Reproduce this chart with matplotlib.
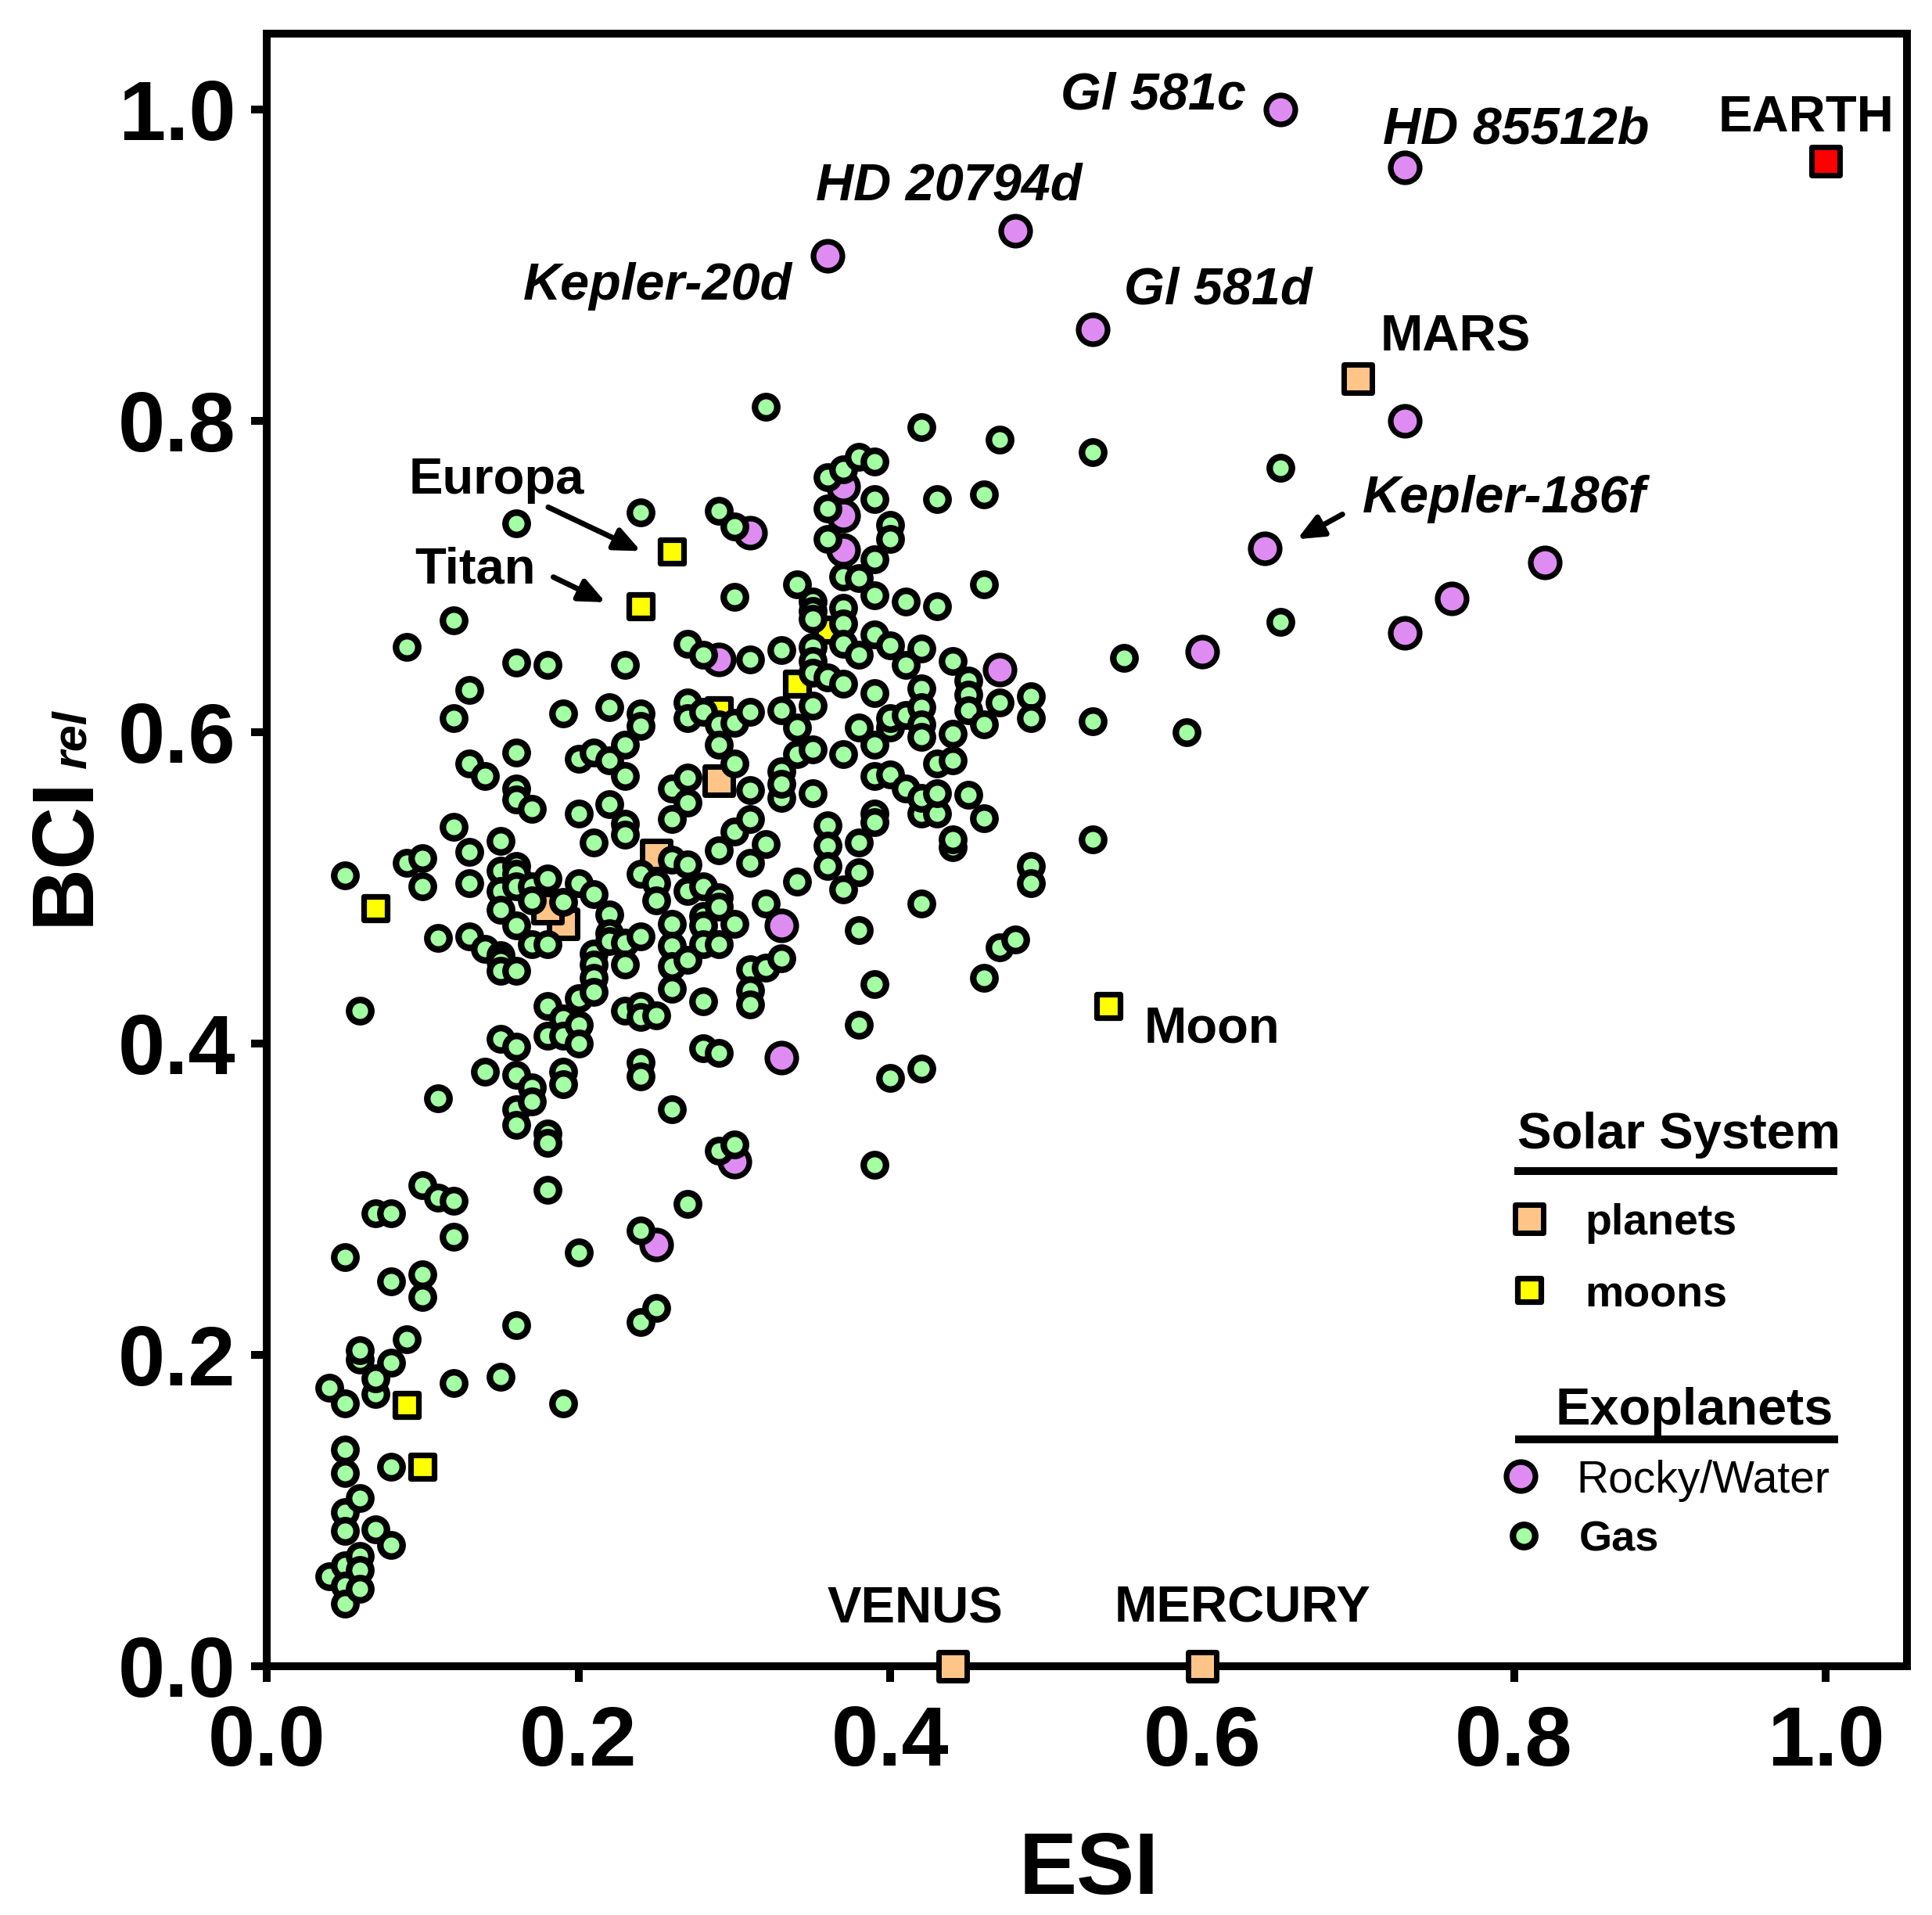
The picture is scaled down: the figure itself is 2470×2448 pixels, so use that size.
import matplotlib
matplotlib.use("Agg")
import matplotlib.pyplot as plt
from matplotlib.ticker import FormatStrFormatter

plt.rcParams["font.family"] = ["Liberation Sans", "DejaVu Sans"]
plt.rcParams["font.weight"] = "bold"

# exoplanets, gas giants (ESI, BCI_rel), one line per ESI column
gas_esi = [
    0.04, 0.04,
    0.05, 0.05, 0.05, 0.05, 0.05, 0.05, 0.05, 0.05, 0.05, 0.05,
    0.06, 0.06, 0.06, 0.06, 0.06, 0.06, 0.06,
    0.07, 0.07, 0.07, 0.07,
    0.08, 0.08, 0.08, 0.08, 0.08,
    0.09, 0.09, 0.09,
    0.10, 0.10, 0.10, 0.10, 0.10,
    0.11, 0.11, 0.11,
    0.12, 0.12, 0.12, 0.12, 0.12, 0.12,
    0.13, 0.13, 0.13, 0.13, 0.13,
    0.14, 0.14, 0.14,
    0.15, 0.15, 0.15, 0.15, 0.15, 0.15, 0.15, 0.15, 0.15,
    0.16, 0.16, 0.16, 0.16, 0.16, 0.16, 0.16, 0.16, 0.16, 0.16, 0.16, 0.16, 0.16, 0.16, 0.16,
    0.17, 0.17, 0.17, 0.17, 0.17, 0.17,
    0.18, 0.18, 0.18, 0.18, 0.18, 0.18, 0.18, 0.18,
    0.19, 0.19, 0.19, 0.19, 0.19, 0.19, 0.19,
    0.20, 0.20, 0.20, 0.20, 0.20, 0.20, 0.20,
    0.21, 0.21, 0.21, 0.21, 0.21, 0.21, 0.21,
    0.22, 0.22, 0.22, 0.22, 0.22, 0.22,
    0.23, 0.23, 0.23, 0.23, 0.23, 0.23, 0.23, 0.23,
    0.24, 0.24, 0.24, 0.24, 0.24, 0.24, 0.24, 0.24, 0.24, 0.24, 0.24,
    0.25, 0.25, 0.25, 0.25,
    0.26, 0.26, 0.26, 0.26, 0.26, 0.26, 0.26, 0.26,
    0.27, 0.27, 0.27, 0.27, 0.27, 0.27, 0.27, 0.27, 0.27,
    0.28, 0.28, 0.28, 0.28, 0.28, 0.28, 0.28, 0.28,
    0.29, 0.29, 0.29, 0.29, 0.29, 0.29, 0.29, 0.29, 0.29,
    0.30, 0.30, 0.30, 0.30, 0.30, 0.30, 0.30,
    0.31, 0.31, 0.31, 0.31, 0.31, 0.31, 0.31, 0.31,
    0.32, 0.32, 0.32, 0.32,
    0.33, 0.33, 0.33, 0.33, 0.33, 0.33,
    0.34, 0.34, 0.34, 0.34,
    0.35, 0.35, 0.35, 0.35, 0.35, 0.35, 0.35, 0.35, 0.35,
    0.36, 0.36, 0.36, 0.36, 0.36, 0.36, 0.36,
    0.37, 0.37, 0.37, 0.37, 0.37, 0.37, 0.37, 0.37,
    0.38, 0.38, 0.38, 0.38, 0.38, 0.38, 0.38, 0.38,
    0.39, 0.39, 0.39, 0.39, 0.39, 0.39, 0.39, 0.39, 0.39, 0.39, 0.39, 0.39,
    0.40, 0.40, 0.40, 0.40, 0.40, 0.40, 0.40,
    0.41, 0.41, 0.41, 0.41,
    0.42, 0.42, 0.42, 0.42, 0.42, 0.42, 0.42, 0.42, 0.42, 0.42,
    0.43, 0.43, 0.43, 0.43, 0.43,
    0.44, 0.44, 0.44, 0.44, 0.44,
    0.45, 0.45, 0.45, 0.45,
    0.46, 0.46, 0.46, 0.46, 0.46,
    0.47, 0.47, 0.47,
    0.48,
    0.49, 0.49, 0.49, 0.49,
    0.53, 0.53, 0.53,
    0.55,
    0.59,
    0.65, 0.65,
]
gas_bci = [
    0.179, 0.058,
    0.263, 0.169, 0.139, 0.124, 0.099, 0.087, 0.065, 0.052, 0.040, 0.508,
    0.197, 0.203, 0.108, 0.071, 0.062, 0.050, 0.421,
    0.291, 0.175, 0.185, 0.088,
    0.291, 0.247, 0.195, 0.128, 0.078,
    0.210, 0.516, 0.655,
    0.309, 0.252, 0.237, 0.519, 0.501,
    0.301, 0.468, 0.365,
    0.299, 0.276, 0.182, 0.539, 0.672, 0.609,
    0.523, 0.503, 0.469, 0.627, 0.580,
    0.461, 0.382, 0.572,
    0.186, 0.530, 0.511, 0.498, 0.486, 0.457, 0.453, 0.447, 0.403,
    0.219, 0.514, 0.509, 0.501, 0.476, 0.447, 0.398, 0.380, 0.358, 0.348, 0.734, 0.645, 0.587, 0.564, 0.557,
    0.501, 0.492, 0.464, 0.372, 0.363, 0.551,
    0.506, 0.464, 0.424, 0.405, 0.342, 0.336, 0.306, 0.643,
    0.169, 0.491, 0.416, 0.405, 0.382, 0.374, 0.612,
    0.266, 0.503, 0.429, 0.412, 0.400, 0.548, 0.583,
    0.496, 0.458, 0.451, 0.442, 0.433, 0.529, 0.587,
    0.483, 0.471, 0.466, 0.554, 0.616, 0.582,
    0.465, 0.451, 0.421, 0.541, 0.534, 0.643, 0.592, 0.572,
    0.280, 0.221, 0.469, 0.424, 0.417, 0.388, 0.379, 0.509, 0.741, 0.612, 0.604,
    0.230, 0.418, 0.503, 0.492,
    0.358, 0.544, 0.518, 0.477, 0.463, 0.450, 0.435, 0.564,
    0.297, 0.555, 0.515, 0.498, 0.454, 0.657, 0.619, 0.609, 0.571,
    0.501, 0.482, 0.476, 0.464, 0.427, 0.397, 0.650, 0.613,
    0.524, 0.494, 0.488, 0.464, 0.394, 0.331, 0.742, 0.605, 0.592,
    0.536, 0.477, 0.335, 0.732, 0.687, 0.606, 0.580,
    0.563, 0.544, 0.516, 0.448, 0.434, 0.425, 0.647, 0.613,
    0.528, 0.490, 0.449, 0.809,
    0.558, 0.455, 0.653, 0.614, 0.575, 0.567,
    0.504, 0.695, 0.603, 0.586,
    0.561, 0.684, 0.678, 0.673, 0.655, 0.646, 0.638, 0.617, 0.589,
    0.540, 0.527, 0.514, 0.764, 0.744, 0.724, 0.635,
    0.499, 0.769, 0.700, 0.680, 0.670, 0.657, 0.631, 0.586,
    0.529, 0.510, 0.473, 0.412, 0.777, 0.699, 0.650, 0.603,
    0.548, 0.542, 0.438, 0.322, 0.774, 0.750, 0.711, 0.688, 0.663, 0.625, 0.592, 0.572,
    0.378, 0.733, 0.724, 0.656, 0.603, 0.609, 0.573,
    0.684, 0.643, 0.611, 0.564,
    0.548, 0.558, 0.490, 0.384, 0.796, 0.654, 0.628, 0.616, 0.605, 0.597,
    0.548, 0.750, 0.681, 0.580, 0.561,
    0.526, 0.531, 0.646, 0.599, 0.582,
    0.560, 0.633, 0.624, 0.614,
    0.545, 0.442, 0.753, 0.695, 0.605,
    0.462, 0.788, 0.619,
    0.467,
    0.514, 0.503, 0.623, 0.609,
    0.780, 0.607, 0.531,
    0.648,
    0.600,
    0.770, 0.671,
]

# exoplanets, rocky/water
rocky_esi = [0.65, 0.73, 0.48, 0.36, 0.53, 0.73, 0.64, 0.82, 0.76, 0.73, 0.60,
             0.47, 0.31, 0.37, 0.37, 0.37, 0.29, 0.33, 0.33, 0.30, 0.25]
rocky_bci = [1.000, 0.963, 0.922, 0.906, 0.859, 0.800, 0.718, 0.709, 0.686, 0.664, 0.652,
             0.640, 0.728, 0.739, 0.717, 0.758, 0.647, 0.476, 0.391, 0.324, 0.271]

# solar system
planet_esi = [0.60, 0.44, 0.70, 0.29, 0.25, 0.19, 0.18]
planet_bci = [0.000, 0.000, 0.827, 0.569, 0.521, 0.477, 0.487]
earth_esi = [1.00]
earth_bci = [0.967]
moon_esi = [0.26, 0.24, 0.54, 0.07, 0.09, 0.10, 0.34, 0.36, 0.29]
moon_bci = [0.716, 0.681, 0.424, 0.487, 0.168, 0.128, 0.631, 0.666, 0.614]

ticks = [0.0, 0.2, 0.4, 0.6, 0.8, 1.0]

GAS_C, ROCKY_C, PLANET_C, MOON_C = "#a2ffa2", "#df8cf2", "#ffc488", "#ffff00"

fig = plt.figure(figsize=(24.7, 24.48), dpi=100)
ax = fig.add_axes([0.138, 0.1299, 0.849, 0.8527])
ax.set_xlim(0, 1.052)
ax.set_ylim(0, 1.049)

kw = dict(edgecolors="black", clip_on=False)
ax.scatter(planet_esi, planet_bci, s=26 ** 2, marker="s", facecolors=PLANET_C, linewidths=5, zorder=3, **kw)
ax.scatter(earth_esi, earth_bci, s=26 ** 2, marker="s", facecolors="#ff0000", linewidths=5, zorder=3, **kw)
ax.scatter(moon_esi, moon_bci, s=21.6 ** 2, marker="s", facecolors=MOON_C, linewidths=5.2, zorder=3, **kw)
ax.scatter(rocky_esi, rocky_bci, s=26.6 ** 2, facecolors=ROCKY_C, linewidths=5.2, zorder=4, **kw)
ax.scatter(gas_esi, gas_bci, s=20.5 ** 2, facecolors=GAS_C, linewidths=6, zorder=5, **kw)

# axes styling
for sp in ax.spines.values():
    sp.set_linewidth(7.2)
ax.set_xticks(ticks)
ax.set_yticks(ticks)
ax.xaxis.set_major_formatter(FormatStrFormatter("%.1f"))
ax.yaxis.set_major_formatter(FormatStrFormatter("%.1f"))
ax.tick_params(direction="out", length=14.4, width=7.2, labelsize=78, top=False, right=False)
ax.tick_params(axis="x", pad=21)
ax.tick_params(axis="y", pad=14)

ax.text(0.5012, -0.1394, "ESI", transform=ax.transAxes, ha="center", va="baseline", fontsize=80)
ax.text(-0.1087, 0.4537, "BCI", transform=ax.transAxes, rotation=90, rotation_mode="anchor",
        ha="left", va="baseline", fontsize=80)
ax.text(-0.1102, 0.5499, "rel", transform=ax.transAxes, rotation=90, rotation_mode="anchor",
        ha="left", va="baseline", fontsize=44, fontstyle="italic")

# point labels
names = [("Gl 581c", 0.628, 1.0005, "right"), ("HD 85512b", 0.716, 0.978, "left"),
         ("HD 20794d", 0.352, 0.942, "left"), ("Kepler-20d", 0.337, 0.878, "right"),
         ("Gl 581d", 0.550, 0.875, "left"), ("Kepler-186f", 0.703, 0.741, "left")]
for txt, x, y, ha in names:
    ax.text(x, y, txt, ha=ha, va="baseline", fontsize=48, fontstyle="italic", zorder=6)

solar = [("EARTH", 0.931, 0.986, "left"), ("MARS", 0.714, 0.845, "left"),
         ("Europa", 0.091, 0.7535, "left"), ("Titan", 0.095, 0.696, "left"),
         ("Moon", 0.5625, 0.401, "left"), ("VENUS", 0.416, 0.0277, "center"),
         ("MERCURY", 0.626, 0.0285, "center")]
for txt, x, y, ha in solar:
    ax.text(x, y, txt, ha=ha, va="baseline", fontsize=47, zorder=6)

arrow = dict(arrowstyle="-|>,head_length=0.5,head_width=0.22", lw=5, color="black",
             shrinkA=0, shrinkB=0, mutation_scale=40)
ax.annotate("", xy=(0.240, 0.7164), xytext=(0.1806, 0.7446), arrowprops=arrow)
ax.annotate("", xy=(0.2174, 0.6835), xytext=(0.1839, 0.6997), arrowprops=arrow)
ax.annotate("", xy=(0.661, 0.724), xytext=(0.690, 0.740), arrowprops=arrow)

# hand-made legend
ax.text(0.802, 0.3327, "Solar System", fontsize=47, va="baseline")
ax.plot([0.800, 1.0075], [0.318, 0.318], color="black", lw=7.2, solid_capstyle="butt", clip_on=False)
ax.scatter([0.810], [0.2874], s=26 ** 2, marker="s", facecolors=PLANET_C, linewidths=5, zorder=3, **kw)
ax.text(0.8456, 0.2776, "planets", fontsize=40, va="baseline")
ax.scatter([0.8096], [0.2419], s=21.6 ** 2, marker="s", facecolors=MOON_C, linewidths=5.2, zorder=3, **kw)
ax.text(0.8456, 0.2309, "moons", fontsize=40, va="baseline")

ax.text(0.8267, 0.1554, "Exoplanets", fontsize=48, va="baseline")
ax.plot([0.8005, 1.008], [0.1459, 0.1459], color="black", lw=7.2, solid_capstyle="butt", clip_on=False)
ax.scatter([0.804], [0.1223], s=26.6 ** 2, facecolors=ROCKY_C, linewidths=5.2, zorder=4, **kw)
ax.text(0.840, 0.1118, "Rocky/Water", fontsize=41, fontweight="normal", va="baseline")
ax.scatter([0.806], [0.0839], s=20.5 ** 2, facecolors=GAS_C, linewidths=6, zorder=5, **kw)
ax.text(0.8417, 0.074, "Gas", fontsize=39, va="baseline")

fig.savefig("out.png", dpi=100)
